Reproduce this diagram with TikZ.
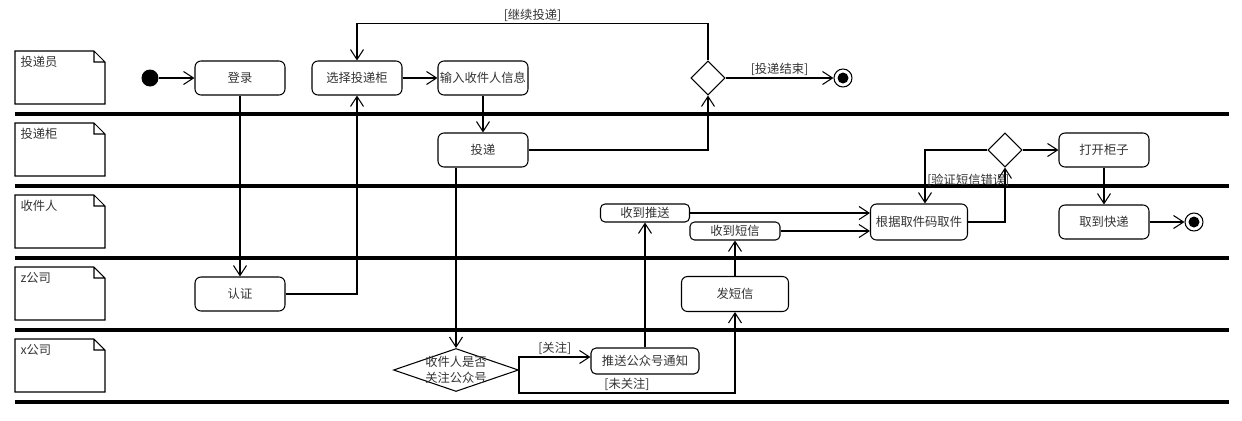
\documentclass[tikz,border=0pt]{standalone}
\usepackage{fontspec}
\setmainfont{Noto Sans CJK SC}
\usetikzlibrary{arrows.meta,shapes.geometric}

\begin{document}
\begin{tikzpicture}[x=0.02cm,y=-0.02cm,>={Straight Barb[length=2mm,width=2.6mm]},
  font=\fontsize{7}{9}\selectfont,line width=0.6pt,
  act/.style={draw,rounded corners=1.2mm,minimum width=1.8cm,minimum height=0.68cm,inner sep=0pt,text=black!80},
  thin act/.style={act,rounded corners=0.9mm,minimum height=0.36cm},
  dec/.style={draw,diamond,minimum width=0.68cm,minimum height=0.68cm,inner sep=0pt},
  stopnode/.style={circle,draw,minimum size=0.36cm,inner sep=0pt,
    path picture={\fill (path picture bounding box.center) circle (0.11cm);}},
  guard/.style={inner sep=1pt,text=black!80},
  lanesep/.style={line width=1.8pt}]
\useasboundingbox (0,0) rectangle (1242,420);

\foreach \y/\lab in {51/投递员,123/投递柜,195/收件人,267/z公司,339/x公司}{
  \draw (15,\y) -- (94,\y) -- (105,{\y+11}) -- (105,{\y+53}) -- (15,{\y+53}) -- cycle
        (94,\y) |- (105,{\y+11});
  \node[anchor=west,inner sep=0pt,text=black!80] (lane\y) at (20,{\y+11}) {\lab};
}
\foreach \y in {114,186,258,330,402} \draw[lanesep] (15,\y) -- (1229,\y);

\node[circle,fill,minimum size=0.34cm,inner sep=0pt] (start) at (150,78) {};
\node[act] (login) at (240,78) {登录};
\node[act] (choose) at (357,78) {选择投递柜};
\node[act] (input) at (483,78) {输入收件人信息};
\node[dec] (d1) at (708,78) {};
\node[stopnode] (stop1) at (843,78) {};
\node[act] (deliver) at (483,150) {投递};
\node[dec] (d2) at (1005,150) {};
\node[act] (open) at (1104,150) {打开柜子};
\node[thin act,minimum width=1.78cm] (gotpush) at (645,213) {收到推送};
\node[thin act] (gotsms) at (735,231) {收到短信};
\node[act,minimum width=1.94cm,minimum height=0.72cm] (fetch) at (919,222) {根据取件码取件};
\node[act] (got) at (1104,222) {取到快递};
\node[stopnode] (stop2) at (1194,222) {};
\node[act] (auth) at (240,294) {认证};
\node[act,minimum width=2.14cm,minimum height=0.7cm] (sms) at (735,294) {发短信};
\node[dec,minimum width=2.5cm,minimum height=0.86cm] (ask) at (456,370) {};
\node[align=center,inner sep=0pt,text=black!80] (asktext) at (ask) {收件人是否\\关注公众号};
\node[act,rounded corners=1mm,minimum width=2.16cm,minimum height=0.52cm] (push) at (645,361) {推送公众号通知};

\draw[->] (start) -- (login);
\draw[->] (choose) -- (input);
\draw[->] (input) -- (deliver);
\draw[->] (deliver) -| (d1);
\draw[->] (d1.north) -- ++(0,-37) -| node[guard,pos=0.25,above]{[继续投递]} (choose.north);
\draw[->] (d1) -- node[guard,above]{[投递结束]} (stop1);
\draw[->] (login) -- (auth);
\draw[->] (auth) -| (choose);
\draw[->] (ask.north |- deliver.south) -- (ask);
\draw[->] (ask.east) |- node[guard,pos=0.75,above]{[关注]} ([yshift=0.08cm]push.west);
\draw[->] (ask.east) -- ++(0,23) -| node[guard,pos=0.25,above]{[未关注]} (sms);
\draw[->] (push) -- (gotpush);
\draw[->] (sms) -- (gotsms);
\draw[->] (gotpush) -- (gotpush -| fetch.west);
\draw[->] (gotsms) -- (gotsms -| fetch.west);
\draw[->] (fetch) -| (d2);
\draw[->] (d2) -| node[guard,pos=0.78,anchor=west]{[验证短信错误]} ([xshift=0.12cm]fetch.north);
\draw[->] (d2) -- (open);
\draw[->] (open) -- (got);
\draw[->] (got) -- (stop2);
\end{tikzpicture}
\end{document}
